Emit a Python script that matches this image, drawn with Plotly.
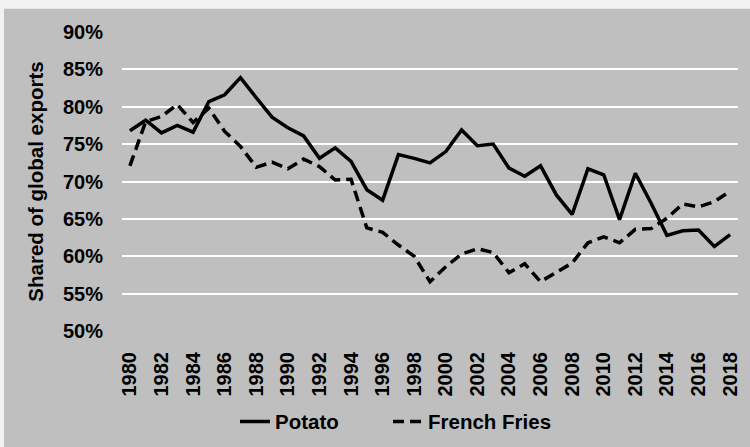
import plotly.graph_objects as go

years = list(range(1980, 2019))
potato = [76.8, 78.2, 76.5, 77.5, 76.6, 80.7, 81.6, 83.9, 81.2, 78.6, 77.2, 76.1,
          73.1, 74.5, 72.7, 68.9, 67.5, 73.6, 73.1, 72.5, 74.0, 76.9, 74.8, 75.0, 71.8,
          70.7, 72.1, 68.2, 65.6, 71.7, 70.9, 64.9, 71.1, 67.1, 62.8, 63.4, 63.5, 61.3, 62.9]
french_fries = [72.1, 78.0, 78.7, 80.3, 77.9, 79.8, 76.7, 74.7, 71.9, 72.6, 71.7, 73.0,
                72.0, 70.2, 70.3, 63.8, 63.2, 61.5, 60.0, 56.6, 58.6, 60.3, 61.0, 60.5, 57.8,
                59.0, 56.6, 57.8, 59.1, 61.8, 62.6, 61.8, 63.6, 63.7, 65.1, 67.0, 66.6, 67.3, 68.7]
x_ticks = list(range(1980, 2019, 2))
y_ticks = [50, 55, 60, 65, 70, 75, 80, 85, 90]
y_tick_labels = ["50%", "55%", "60%", "65%", "70%", "75%", "80%", "85%", "90%"]
y_title = "Shared of global exports"

font = dict(family="Liberation Sans, Arial, sans-serif", size=20, color="black", weight="bold")
title_font = dict(font, size=20.5)

fig = go.Figure()
fig.add_trace(go.Scatter(x=years, y=potato, name="Potato", mode="lines", legend="legend",
                         line=dict(color="black", width=3.5)))
fig.add_trace(go.Scatter(x=years, y=french_fries, name="French Fries", mode="lines", legend="legend2",
                         line=dict(color="black", width=3.5, dash="11px,6px")))

fig.add_shape(type="rect", xref="paper", yref="paper", x0=-0.1916, x1=1.05, y0=-0.45, y1=1.078,
              fillcolor="#BFBFBF", line=dict(width=0), layer="below")

leg_common = dict(orientation="h", xanchor="left", y=-0.303, yanchor="middle",
                  bgcolor="rgba(0,0,0,0)", font=title_font)

fig.update_layout(
    width=750, height=447,
    margin=dict(l=122, r=12, t=32, b=116, autoexpand=False),
    paper_bgcolor="#F2F2F2",
    plot_bgcolor="#BFBFBF",
    font=font,
    showlegend=True,
    legend=dict(x=(235 - 122) / 616, **leg_common),
    legend2=dict(x=(388 - 122) / 616, **leg_common),
    xaxis=dict(range=[1979.5, 2018.5], tickvals=x_ticks, ticktext=[str(v) for v in x_ticks],
               tickangle=-90, showgrid=False, zeroline=False, showline=False, automargin=False,
               ticks="outside", ticklen=12, tickcolor="rgba(0,0,0,0)", tickfont=font),
    yaxis=dict(range=[50, 90], tickvals=y_ticks, ticktext=y_tick_labels, showgrid=True,
               gridcolor="white", gridwidth=2, zeroline=False, showline=False, automargin=False,
               ticks="outside", ticklen=14, tickcolor="rgba(0,0,0,0)", tickfont=font,
               title=dict(text=y_title, font=title_font, standoff=13)),
)

fig.write_html("out.html", config={"displayModeBar": False},
               post_script="document.body.style.margin='0px';")
